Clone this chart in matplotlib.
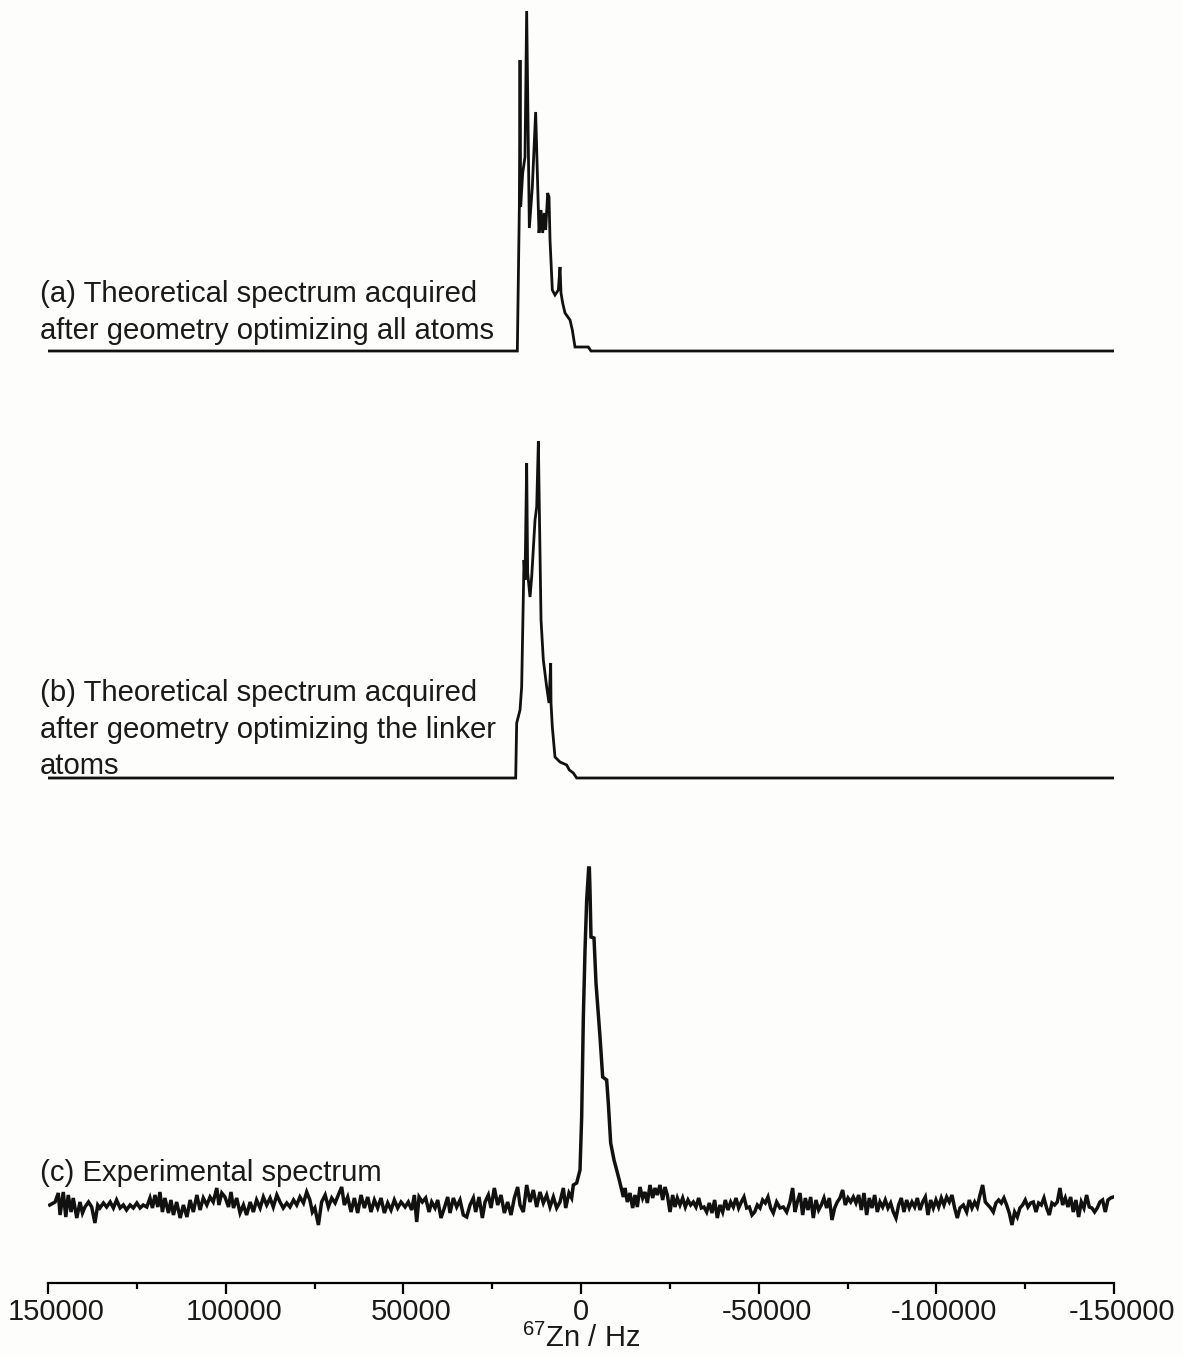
import numpy as np
import matplotlib
matplotlib.use('Agg')
import matplotlib.pyplot as plt
from matplotlib import rcParams
from matplotlib.transforms import ScaledTranslation
rcParams['font.family'] = ['Liberation Sans', 'DejaVu Sans']
rcParams['mathtext.default'] = 'regular'
rcParams['axes.unicode_minus'] = False

# ---- (a) theoretical, all atoms optimised: frequency (Hz) / intensity (a.u.)
a_hz = [150000, 17920, 17350, 17160, 16980, 16410, 15760, 15290, 14540, 13700,
        12760, 11820, 11260, 10790, 10320, 9940, 9380, 9000, 8720, 8070,
        7320, 6380, 5910, 5630, 5160, 4500, 3090, 2440, 1690, -2060,
        -2810, -150000]
a_int = [0, 0, 144, 291, 144, 178, 194, 340, 123, 164,
         239, 118, 141, 118, 138, 121, 158, 154, 111, 61,
         56, 61, 84, 58, 48, 38, 31, 21, 4, 4,
         0, 0]

# ---- (b) theoretical, linker atoms optimised
b_hz = [150000, 18380, 18100, 17160, 16700, 16040, 15760, 15290, 15010, 14350,
        13880, 12940, 12470, 12000, 11720, 11250, 10600, 9660, 9000, 8530,
        8440, 8070, 7320, 5910, 4030, 3280, 2160, 1220, -150000]
b_int = [0, 0, 55, 68, 91, 218, 198, 315, 205, 181,
         201, 258, 271, 337, 268, 158, 118, 91, 75, 115,
         75, 51, 21, 16, 13, 8, 5, 0, 0]

# ---- (c) experimental spectrum
c_hz = [149500, 148000, 147100, 146600, 145700, 145000, 144300, 143500, 142900, 141900,
        141000, 140300, 139600, 138600, 137700, 136800, 136000, 135400, 134400, 133500,
        132500, 131600, 130700, 129700, 128800, 127900, 126900, 126000, 125000, 124100,
        123200, 122200, 121300, 120600, 119900, 119100, 118500, 117800, 117100, 116100,
        115400, 114700, 113800, 112800, 111900, 110900, 110000, 109100, 108100, 107200,
        106300, 105300, 104400, 103500, 102500, 101900, 101100,
        100200, 99200, 98500, 97800, 96900, 95950, 95000, 94100, 93100, 92200,
        91300, 90300, 89400, 88450, 87500, 86600, 85600, 84700, 83800, 82800,
        81900, 80900, 80000, 79100, 78100, 77200, 76300, 75600, 74900, 73900,
        73000, 72000, 71100, 70150, 69200, 68300, 67350, 66600, 65660, 64720,
        63780, 62850, 61910, 60970, 60030, 59100, 58150, 57220, 56280, 55340,
        54400, 53460, 52530, 51590, 50650,
        49500, 48600, 47650, 46900, 46240, 45580, 44650, 43710, 42770, 42020,
        41080, 40330, 39400, 38460, 37520, 36860, 35920, 34990, 34050, 33110,
        32170, 31230, 30300, 29640, 28700, 27760, 27010, 26080, 25320, 24390,
        23450, 22510, 21570, 20640, 19700, 18760, 17820, 17160, 16230, 15290,
        14350, 13410, 12470, 11540, 10600, 9660, 8720, 7780, 6850, 5910,
        4970, 4310, 3380, 2630, 2160,
        1220, 280, -190, -660, -1130, -1600, -2160, -2350, -2530, -2810,
        -3660, -4220, -5350, -6100, -7220, -7690, -8350, -9290, -10040, -10980,
        -11920,
        -12380, -13040, -13790, -14540, -15200, -15850, -16600, -17350, -18010, -18670,
        -19420, -20170, -20820, -21480, -22230, -22980, -23640, -24300, -25050, -25800,
        -26450, -27110, -27860, -28610, -29360, -30110, -30860, -31610, -32360, -33110,
        -33860, -34610, -35360, -36110, -36860, -37610, -38360, -39110, -39870, -40620,
        -41370, -42120, -42870, -43620, -44370, -45120, -45870, -46620, -47370, -48120,
        -48870, -49620, -50370, -51120, -51870, -52620, -53370, -54120, -55060,
        -56000, -56940, -57880, -58810, -59560, -60220, -60880, -61630, -62380, -63130,
        -63880, -64630, -65380, -66130, -66880, -67630, -68380, -69130, -69880, -70630,
        -71380, -72130, -72880, -73630, -74380, -75140, -75890, -76640, -77390, -78140,
        -78890, -79640, -80390, -81140, -81890, -82640, -83390, -84140, -84890, -85640,
        -86390, -87140, -87890, -88640, -89390, -90140, -90890, -91640, -92390, -93140,
        -93900, -94650, -95400, -96150, -96900, -97650, -98400, -99150, -99900, -100650,
        -101400, -102150, -102900, -103650, -104400, -105150, -105900,
        -106650, -107590, -108530, -109280, -110030, -110780, -111530, -112280, -113030, -113780,
        -114530, -115280, -116030, -116780, -117530, -118280, -119030, -119780, -120530, -121280,
        -122030, -122780, -123530, -124280, -125030, -125790, -126540, -127290, -128040, -128790,
        -129540, -130290, -131040, -131790, -132540, -133290, -134040, -134790, -135540, -136290,
        -137040, -137790, -138540, -139290, -140040, -140790, -141540, -142290, -143040, -143790,
        -144540, -145290, -146040, -146790, -147540, -148290, -149040, -149800]
c_int = [0, 3, 12, -10, 13, -12, 10, -7, 7, -13,
         3, -8, -2, 3, -2, -18, 0, -3, 2, -2,
         3, -3, 5, -3, 0, -5, 0, -3, 2, -3,
         0, -2, 7, -3, 10, -2, 13, -7, 7, -8,
         5, -10, 3, -13, 0, -12, 5, -7, 10, -5,
         7, 0, 8, 3, 17, 0, 12,
         8, -2, 13, -3, 7, -8, 0, -10, 3, -7,
         5, -3, 8, 0, 7, -2, 10, 3, -3, 2,
         -2, 5, 0, 8, 2, 13, 5, -7, -3, -20,
         3, 10, -2, 7, 2, 10, 18, 0, 8, -7,
         7, -8, 10, -3, 8, -7, 5, -3, 7, -8,
         2, -5, 5, -3, 3,
         -2, 3, -5, 10, -17, 8, 3, 7, -7, 3,
         -3, 5, -13, -3, 8, -8, 7, -2, 5, -10,
         -12, 0, 7, -7, 8, -13, 3, 10, -3, 17,
         0, 10, -8, 3, -10, 7, 18, 0, -7, 20,
         3, 15, -2, 13, 2, 10, -2, 8, -3, 3,
         17, -3, 12, 7, 20,
         22, 35, 88, 188, 255, 305, 337, 337, 315, 268,
         267, 222, 168, 128, 125, 102, 62, 45, 35, 22,
         8,
         17, 3, 12, -3, 10, -2, 18, 7, 13, 2,
         20, 7, 17, 10, 20, 5, 18, 10, -7, 10,
         -2, 7, 0, 7, -2, 5, 0, 3, -2, 7,
         -3, -2, -7, 2, -8, 5, -13, 0, -7, 5,
         -5, 3, -2, 7, -3, 3, 8, -3, -2, -10,
         -7, 0, -3, 5, 2, 8, -3, -8, 3,
         -3, -2, -7, 3, 17, -7, 3, 12, -10, 7,
         -5, 8, -13, 5, -5, 0, 7, -3, 7, -15,
         -3, 3, 7, 15, 0, 7, 3, 8, 2, 10,
         -5, 12, -10, 7, -3, 10, -7, 3, -2, 5,
         -3, 2, -7, -13, 0, 7, -7, 5, -3, 3,
         -2, 7, -5, 3, 8, -10, 5, -3, 5, -2,
         7, 0, 8, 3, 10, -3, -13,
         -3, 0, -7, 5, -3, 3, -2, 10, 20, 3,
         0, -3, -7, 2, 5, 2, 7, 0, -8, -20,
         -7, -12, -3, 0, 5, -2, 2, 3, -7, 2,
         0, 7, -3, -10, 2, 0, 3, 17, 0, 7,
         -2, 8, -7, 5, -12, 3, -3, 10, -2, -3,
         -7, -3, 3, 5, -7, 5, 7, 8]

labels = ['(a) Theoretical spectrum acquired\nafter geometry optimizing all atoms',
          '(b) Theoretical spectrum acquired\nafter geometry optimizing the linker\natoms',
          '(c) Experimental spectrum']
offsets = [932, 505, 78]
ticks = [150000, 100000, 50000, 0, -50000, -100000, -150000]

W, H = 1183, 1356
fig = plt.figure(figsize=(W / 100, H / 100), dpi=100, facecolor='#fdfdfb')
ax = fig.add_axes([48 / W, (H - 1283) / H, (1114 - 48) / W, 1283 / H])
ax.set_facecolor('none')

for hz, inten, off, lw in zip([a_hz, b_hz, c_hz], [a_int, b_int, c_int], offsets, [2.0, 2.0, 2.5]):
    ax.plot(hz, np.array(inten) + off, color='#111111', lw=lw, solid_joinstyle='miter')

ax.set_xlim(150000, -150000)
ax.set_ylim(0, 1283)

# text blocks (top-left of each block, figure pixels)
text_pos = [(40, 280), (40, 679), (40, 1159)]
for lab, (tx, ty) in zip(labels, text_pos):
    fig.text(tx / W, 1 - ty / H, lab, fontsize=21.1, ha='left', va='top',
             linespacing=1.39, color='#1a1a1a')

ax.spines['left'].set_visible(False)
ax.spines['right'].set_visible(False)
ax.spines['top'].set_visible(False)
ax.spines['bottom'].set_linewidth(1.6)
ax.set_yticks([])
ax.set_xticks(ticks)
ax.set_xticks(np.arange(-125000, 150000, 50000), minor=True)
ax.tick_params(axis='x', which='major', direction='out', length=8, width=1.6,
               labelsize=21, pad=3, labelcolor='#1a1a1a')
ax.tick_params(axis='x', which='minor', direction='out', length=4, width=1.6)
ax.set_xlabel('$^{67}$Zn / Hz', fontsize=21, color='#1a1a1a')
ax.xaxis.set_label_coords(0.5, -0.032)

# non-zero tick labels sit a little right of their ticks in the original
for t, lab in zip(ticks, ax.get_xticklabels()):
    if t != 0:
        lab.set_transform(lab.get_transform() + ScaledTranslation(0.08, 0, fig.dpi_scale_trans))

fig.savefig('out.png', dpi=100, facecolor=fig.get_facecolor())
